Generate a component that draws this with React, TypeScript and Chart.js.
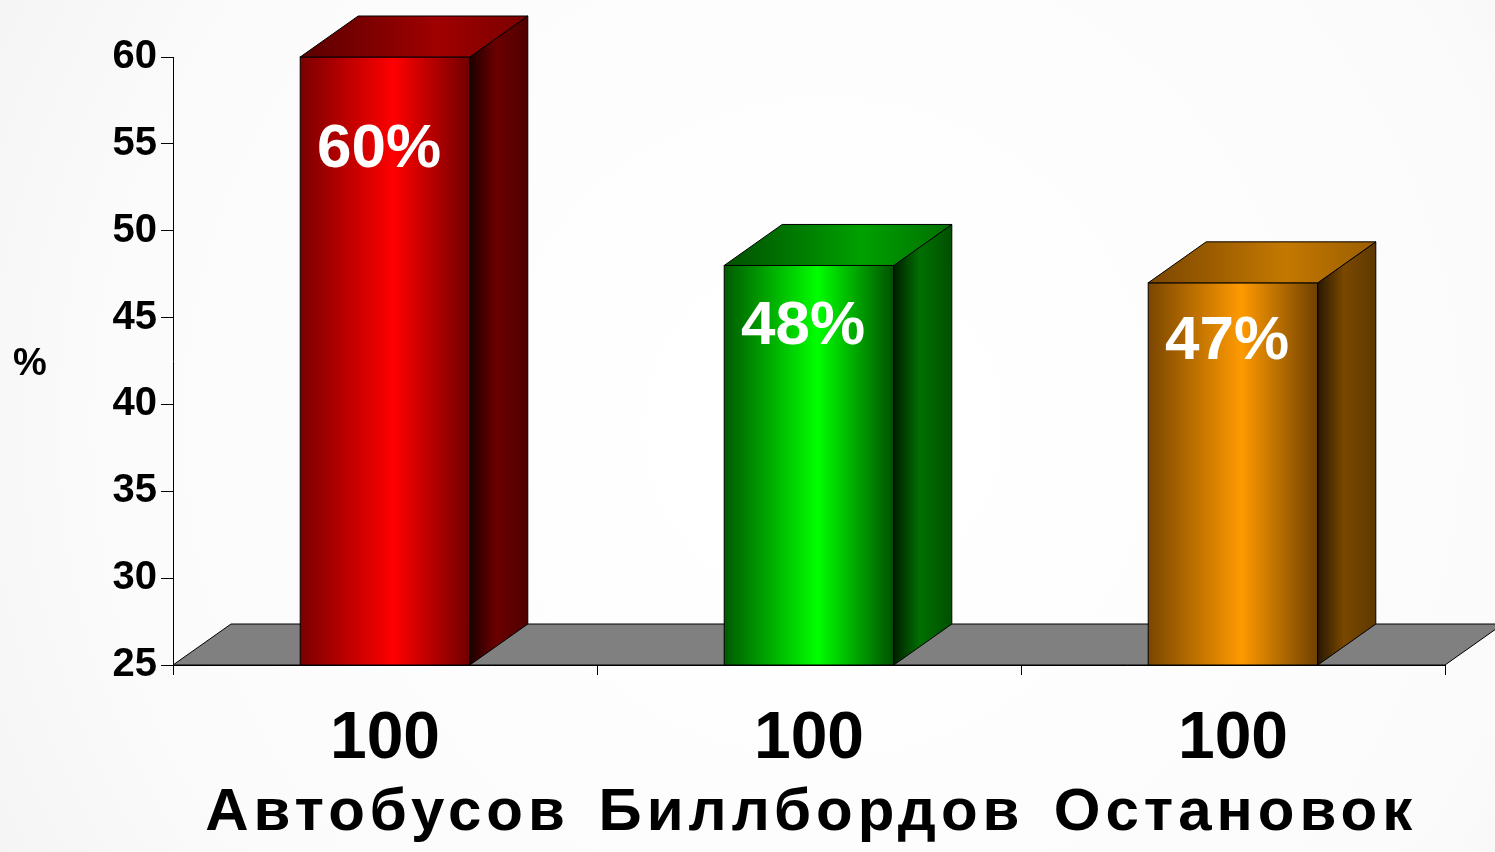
import React, { useEffect, useRef } from "react";
import { Chart, registerables } from "chart.js";

Chart.register(...registerables);

// ---- data ----
const categories = ["Автобусов", "Биллбордов", "Остановок"];
const counts = ["100", "100", "100"];
const values = [60, 48, 47];
const valueLabels = ["60%", "48%", "47%"];
const yMin = 25;
const yMax = 60;
const yStep = 5;
const yTitle = "%";

// ---- styles ----
const FONT = '"Liberation Sans", Arial, sans-serif';
const DX = 58;
const DY = -41;
const palettes = [
  { front: ["#7a0000", "#ff0000", "#700000"], side: ["#1e0000", "#6a0000", "#500000"], top: ["#5a0000", "#a00000", "#7a0000"] },
  { front: ["#005a00", "#00ff00", "#005000"], side: ["#001e00", "#007000", "#005000"], top: ["#005000", "#00a000", "#007000"] },
  { front: ["#7a4600", "#ff9a00", "#6e4000"], side: ["#2a1800", "#7a4800", "#5e3800"], top: ["#7a4600", "#c47800", "#9a5e00"] },
];

function grad(ctx: CanvasRenderingContext2D, x1: number, x2: number, stops: string[], mid = 0.55) {
  const g = ctx.createLinearGradient(x1, 0, x2, 0);
  g.addColorStop(0, stops[0]);
  g.addColorStop(mid, stops[1]);
  g.addColorStop(1, stops[2]);
  return g;
}

const bar3d = {
  id: "bar3d",
  beforeDraw(chart: any) {
    const { ctx, width, height } = chart;
    ctx.save();
    const g = ctx.createRadialGradient(width * 0.55, height * 0.5, 100, width * 0.55, height * 0.5, width * 0.75);
    g.addColorStop(0, "#ffffff");
    g.addColorStop(0.6, "#fbfbfb");
    g.addColorStop(1, "#efefef");
    ctx.fillStyle = g;
    ctx.fillRect(0, 0, width, height);
    ctx.restore();
  },
  beforeDatasetsDraw(chart: any) {
    const { ctx, chartArea } = chart;
    const yb = chart.scales.y.getPixelForValue(yMin);
    ctx.save();
    ctx.beginPath();
    ctx.moveTo(chartArea.left, yb);
    ctx.lineTo(chartArea.right, yb);
    ctx.lineTo(chartArea.right + DX, yb + DY);
    ctx.lineTo(chartArea.left + DX, yb + DY);
    ctx.closePath();
    ctx.fillStyle = "#808080";
    ctx.fill();
    ctx.strokeStyle = "#000";
    ctx.lineWidth = 1;
    ctx.stroke();
    ctx.restore();
  },
  afterDatasetsDraw(chart: any) {
    const { ctx } = chart;
    const ys = chart.scales.y;
    const floorY = ys.getPixelForValue(yMin);
    const meta = chart.getDatasetMeta(0);
    ctx.save();
    ctx.lineWidth = 1;
    ctx.strokeStyle = "#000";
    ctx.lineJoin = "miter";
    meta.data.forEach((el: any, i: number) => {
      const p = palettes[i % palettes.length];
      const x1 = el.x - el.width / 2;
      const x2 = el.x + el.width / 2;
      const top = el.y;
      const bottom = Math.min(el.base, floorY);
      // front
      ctx.fillStyle = grad(ctx, x1, x2, p.front);
      ctx.fillRect(x1, top, x2 - x1, bottom - top);
      ctx.strokeRect(x1, top, x2 - x1, bottom - top);
      // side
      ctx.beginPath();
      ctx.moveTo(x2, top);
      ctx.lineTo(x2 + DX, top + DY);
      ctx.lineTo(x2 + DX, bottom + DY);
      ctx.lineTo(x2, bottom);
      ctx.closePath();
      ctx.fillStyle = grad(ctx, x2, x2 + DX, p.side, 0.45);
      ctx.fill();
      ctx.stroke();
      // top
      ctx.beginPath();
      ctx.moveTo(x1, top);
      ctx.lineTo(x2, top);
      ctx.lineTo(x2 + DX, top + DY);
      ctx.lineTo(x1 + DX, top + DY);
      ctx.closePath();
      ctx.fillStyle = grad(ctx, x1, x2 + DX, p.top, 0.6);
      ctx.fill();
      ctx.stroke();
      // value label
      ctx.fillStyle = "#ffffff";
      ctx.font = `bold 62px ${FONT}`;
      ctx.textAlign = "center";
      ctx.textBaseline = "middle";
      ctx.fillText(valueLabels[i], el.x - 6, top + 0.15 * (bottom - top) + 2);
    });
    ctx.restore();
  },
  afterDraw(chart: any) {
    const { ctx } = chart;
    const xs = chart.scales.x;
    const ys = chart.scales.y;
    ctx.save();
    ctx.fillStyle = "#000";
    ctx.textAlign = "center";
    ctx.textBaseline = "alphabetic";
    categories.forEach((name, i) => {
      const x = xs.getPixelForValue(i);
      ctx.font = `bold 66px ${FONT}`;
      (ctx as any).letterSpacing = "0px";
      ctx.fillText(counts[i], x, ys.bottom + 93);
      ctx.font = `bold 60px ${FONT}`;
      (ctx as any).letterSpacing = "5px";
      ctx.fillText(name, x + 2.5, ys.bottom + 165);
    });
    (ctx as any).letterSpacing = "0px";
    ctx.font = `bold 38px ${FONT}`;
    ctx.textBaseline = "middle";
    ctx.fillText(yTitle, 30, (ys.top + ys.bottom) / 2 + 4);
    ctx.restore();
  },
};

export default function App() {
  const ref = useRef<HTMLCanvasElement | null>(null);
  useEffect(() => {
    if (!ref.current) return;
    const chart = new Chart(ref.current, {
      type: "bar",
      data: {
        labels: categories,
        datasets: [
          {
            data: values,
            backgroundColor: "rgba(0,0,0,0)",
            borderWidth: 0,
            barPercentage: 0.4,
            categoryPercentage: 1,
          },
        ],
      },
      options: {
        animation: false,
        responsive: true,
        maintainAspectRatio: false,
        layout: { padding: { top: 57, right: 50, left: 0, bottom: 0 } },
        plugins: { legend: { display: false }, tooltip: { enabled: false } },
        scales: {
          x: {
            grid: { display: true, drawOnChartArea: false, drawTicks: true, tickLength: 10, color: "#000", offset: true },
            border: { display: true, color: "#000", width: 1 },
            ticks: { display: false },
            afterFit: (s: any) => {
              s.height = 187;
            },
          },
          y: {
            min: yMin,
            max: yMax,
            grid: { display: true, drawOnChartArea: false, drawTicks: true, tickLength: 12, color: "#000" },
            border: { display: true, color: "#000", width: 1 },
            ticks: {
              stepSize: yStep,
              color: "#000",
              padding: 4,
              font: { family: FONT, size: 40, weight: "bold" },
            },
            afterFit: (s: any) => {
              s.width = 173;
            },
          },
        },
      },
      plugins: [bar3d],
    });
    return () => chart.destroy();
  }, []);
  return (
    <div style={{ position: "absolute", left: 0, top: 0, width: 1495, height: 852 }}>
      <canvas ref={ref} />
    </div>
  );
}
